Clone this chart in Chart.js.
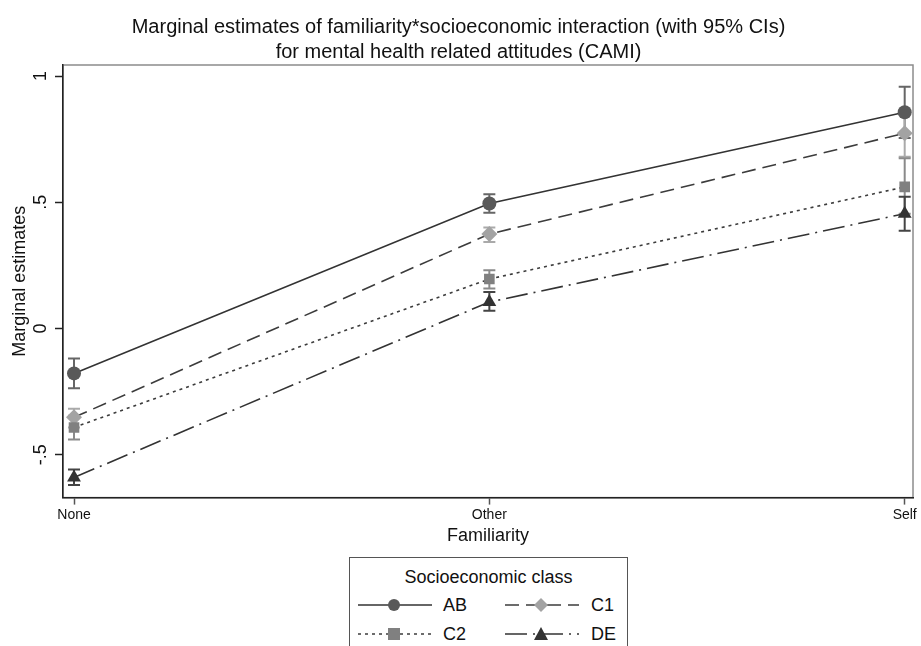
<!DOCTYPE html>
<html>
<head>
<meta charset="utf-8">
<script src="https://cdn.jsdelivr.net/npm/chart.js@4.4.1/dist/chart.umd.min.js"></script>
<style>
body { margin: 0; background: #fff; font-family: "Liberation Sans", Arial, sans-serif; }
#wrap { position: relative; width: 921px; height: 646px; overflow: hidden; }
#legend { position: absolute; left: 349px; top: 557px; width: 279px; height: 120px; border: 1px solid #555; box-sizing: border-box; background: #fff; color: #111; }
#legend .ttl { position: absolute; left: 0; width: 100%; top: 9px; text-align: center; font-size: 18px; }
#legend .item { position: absolute; font-size: 18px; line-height: 20px; }
#legend svg { position: absolute; }
</style>
</head>
<body>
<div id="wrap">
  <canvas id="chart" width="921" height="646"></canvas>
  <div id="legend"></div>
</div>
<script>
// categories and marginal estimates
const familiarity = ['None', 'Other', 'Self'];
const classes = ['AB', 'C1', 'C2', 'DE'];

const abMean = [-0.178, 0.495, 0.857];
const abLow = [-0.237, 0.459, 0.755];
const abHigh = [-0.119, 0.532, 0.958];

const c1Mean = [-0.352, 0.374, 0.774];
const c1Low = [-0.392, 0.343, 0.680];
const c1High = [-0.318, 0.400, 0.868];

const c2Mean = [-0.392, 0.196, 0.561];
const c2Low = [-0.440, 0.158, 0.455];
const c2High = [-0.346, 0.231, 0.675];

const deMean = [-0.590, 0.105, 0.455];
const deLow = [-0.620, 0.070, 0.387];
const deHigh = [-0.559, 0.145, 0.522];

const yTicks = [-0.5, 0, 0.5, 1];

const styles = [
    { line: '#333333', marker: '#595959', bar: '#666666', shape: 'circle', r: 7, dash: [] },
    { line: '#3c3c3c', marker: '#a3a3a3', bar: '#aaaaaa', shape: 'rectRot', r: 8, dash: [14, 7] },
    { line: '#3c3c3c', marker: '#808080', bar: '#8a8a8a', shape: 'rect', r: 7.5, dash: [3, 4] },
    { line: '#333333', marker: '#333333', bar: '#444444', shape: 'triangle', r: 8, dash: [22, 6, 2, 6] }
];
const means = [abMean, c1Mean, c2Mean, deMean];
const lows = [abLow, c1Low, c2Low, deLow];
const highs = [abHigh, c1High, c2High, deHigh];

function fmt(v) {
    if (v === 0) return '0';
    return String(v).replace('0.', '.');
}

// error bars, plot box and rotated y labels
const errorBars = {
    id: 'errorBars',
    beforeDatasetsDraw(chart) {
        const ctx = chart.ctx;
        const xs = chart.scales.x, ys = chart.scales.y;
        ctx.save();
        ctx.lineWidth = 2;
        for (let d = 0; d < classes.length; d++) {
            ctx.strokeStyle = styles[d].bar;
            for (let i = 0; i < familiarity.length; i++) {
                const x = xs.getPixelForValue(i);
                const y1 = ys.getPixelForValue(lows[d][i]);
                const y2 = ys.getPixelForValue(highs[d][i]);
                ctx.beginPath();
                ctx.moveTo(x, y1); ctx.lineTo(x, y2);
                ctx.moveTo(x - 6, y1); ctx.lineTo(x + 6, y1);
                ctx.moveTo(x - 6, y2); ctx.lineTo(x + 6, y2);
                ctx.stroke();
            }
        }
        ctx.restore();
    },
    beforeDraw(chart) {
        const a = chart.chartArea;
        const ctx = chart.ctx;
        ctx.save();
        ctx.strokeStyle = '#8c8c8c';
        ctx.lineWidth = 1.5;
        ctx.strokeRect(a.left, a.top, a.right - a.left, a.bottom - a.top);
        ctx.restore();
    },
    afterDraw(chart) {
        const ctx = chart.ctx;
        const ys = chart.scales.y;
        ctx.save();
        ctx.fillStyle = '#111';
        ctx.font = '18px "Liberation Sans", Arial, sans-serif';
        ctx.textAlign = 'center';
        ctx.textBaseline = 'middle';
        yTicks.forEach(function(v) {
            ctx.save();
            ctx.translate(41, ys.getPixelForValue(v));
            ctx.rotate(-Math.PI / 2);
            ctx.fillText(fmt(v), 0, 0);
            ctx.restore();
        });
        ctx.save();
        ctx.translate(20, (chart.chartArea.top + chart.chartArea.bottom) / 2);
        ctx.rotate(-Math.PI / 2);
        ctx.fillText('Marginal estimates', 0, 0);
        ctx.restore();
        ctx.restore();
    }
};

const datasets = classes.map(function(name, d) {
    return {
        label: name,
        data: means[d].map(function(v, i) { return { x: i, y: v }; }),
        borderColor: styles[d].line,
        borderWidth: 1.6,
        borderDash: styles[d].dash,
        pointStyle: styles[d].shape,
        pointRadius: styles[d].r,
        pointBackgroundColor: styles[d].marker,
        pointBorderColor: styles[d].marker,
        pointBorderWidth: 0,
        fill: false,
        tension: 0,
        order: classes.length - d
    };
});

new Chart(document.getElementById('chart'), {
    type: 'line',
    data: { datasets: datasets },
    plugins: [errorBars],
    options: {
        responsive: false,
        animation: false,
        layout: { padding: { left: 0, right: 4, top: 0, bottom: 99 } },
        plugins: {
            legend: { display: false },
            tooltip: { enabled: false },
            title: {
                display: true,
                text: ['Marginal estimates of familiarity*socioeconomic interaction (with 95% CIs)',
                       'for mental health related attitudes (CAMI)'],
                color: '#111',
                font: { family: '"Liberation Sans", Arial, sans-serif', size: 20, weight: 'normal', lineHeight: 1.25 },
                padding: { top: 15, bottom: 0 }
            }
        },
        scales: {
            x: {
                type: 'linear',
                min: -0.0265,
                max: 2.02,
                afterBuildTicks: function(scale) { scale.ticks = familiarity.map(function(f, i) { return { value: i }; }); },
                ticks: {
                    color: '#111',
                    font: { family: '"Liberation Sans", Arial, sans-serif', size: 14 },
                    padding: 2,
                    callback: function(v) { return familiarity[v]; }
                },
                grid: { drawOnChartArea: false, tickLength: 7, color: '#555', tickWidth: 1.5 },
                border: { color: '#222', width: 1.5 },
                title: {
                    display: true,
                    text: 'Familiarity',
                    color: '#111',
                    font: { family: '"Liberation Sans", Arial, sans-serif', size: 18 },
                    padding: { top: 0, bottom: 0 }
                }
            },
            y: {
                min: -0.67,
                max: 1.044,
                afterBuildTicks: function(scale) { scale.ticks = yTicks.map(function(v) { return { value: v }; }); },
                afterFit: function(scale) { scale.width = 63; },
                ticks: { display: false },
                grid: { drawOnChartArea: false, tickLength: 8, color: '#222', tickWidth: 1.5 },
                border: { color: '#222', width: 1.5 }
            }
        }
    }
});

// legend with line + marker samples
(function buildLegend() {
    const box = document.getElementById('legend');
    const t = document.createElement('div');
    t.className = 'ttl';
    t.textContent = 'Socioeconomic class';
    box.appendChild(t);
    const pos = [
        { sx: 8, tx: 93, y: 47 },
        { sx: 155, tx: 241, y: 47 },
        { sx: 8, tx: 93, y: 76 },
        { sx: 155, tx: 241, y: 76 }
    ];
    classes.forEach(function(name, d) {
        const p = pos[d], st = styles[d];
        const svg = document.createElementNS('http://www.w3.org/2000/svg', 'svg');
        svg.setAttribute('width', '76');
        svg.setAttribute('height', '20');
        svg.style.left = p.sx + 'px';
        svg.style.top = (p.y - 10) + 'px';
        let mk = '';
        const c = 36, m = 10;
        if (st.shape === 'circle') mk = '<circle cx="' + c + '" cy="' + m + '" r="6" fill="' + st.marker + '"/>';
        if (st.shape === 'rectRot') mk = '<polygon points="' + c + ',3 ' + (c + 7) + ',10 ' + c + ',17 ' + (c - 7) + ',10" fill="' + st.marker + '"/>';
        if (st.shape === 'rect') mk = '<rect x="' + (c - 6) + '" y="4" width="12" height="12" fill="' + st.marker + '"/>';
        if (st.shape === 'triangle') mk = '<polygon points="' + c + ',3 ' + (c + 7) + ',16 ' + (c - 7) + ',16" fill="' + st.marker + '"/>';
        svg.innerHTML = '<line x1="0" y1="10" x2="74" y2="10" stroke="' + st.line + '" stroke-width="1.6" stroke-dasharray="' +
            (st.dash.length ? st.dash.join(',') : 'none') + '"/>' + mk;
        box.appendChild(svg);
        const lab = document.createElement('div');
        lab.className = 'item';
        lab.style.left = p.tx + 'px';
        lab.style.top = (p.y - 10) + 'px';
        lab.textContent = name;
        box.appendChild(lab);
    });
})();
</script>
</body>
</html>
